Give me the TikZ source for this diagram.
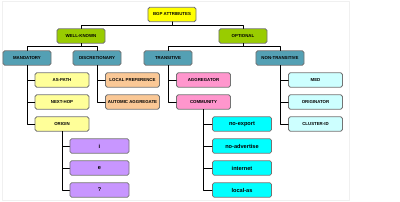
\documentclass[tikz,border=0pt]{standalone}
\usepackage{fontspec}
\setmainfont{Liberation Sans}
\usetikzlibrary{arrows}

\definecolor{bgpyellow}{RGB}{255,255,0}
\definecolor{kindgreen}{RGB}{153,204,0}
\definecolor{classteal}{RGB}{84,160,180}
\definecolor{wellyellow}{RGB}{255,255,153}
\definecolor{discorange}{RGB}{250,200,150}
\definecolor{transpink}{RGB}{255,150,205}
\definecolor{nontcyan}{RGB}{205,255,255}
\definecolor{originlilac}{RGB}{200,150,255}
\definecolor{commcyan}{RGB}{0,255,255}

\begin{document}
\begin{tikzpicture}[line cap=round,line join=round,x=0.025cm,y=-0.025cm,
	box/.style={draw=black!55, line width=0.55pt, rounded corners=1.2pt, inner sep=0pt,
		minimum height=0.36cm, font=\fontsize{3.1}{4}\selectfont\bfseries},
	head/.style={box, minimum width=1.2cm},
	leaf/.style={box, minimum width=1.35cm},
	small/.style={box, minimum width=1.48cm, font=\fontsize{4}{5}\selectfont\bfseries},
	wire/.style={line width=0.6pt, black}]
	\useasboundingbox (0,0) rectangle (400,202);
	\draw[black!6, line width=0.5pt] (2,1) rectangle (349,200);
	% Etage 1
	\node[head, fill=bgpyellow] (bgp) at (172,14.5) {BGP ATTRIBUTES};
	% Etage 2
	\node[head, fill=kindgreen] (wk) at (81,36) {WELL-KNOWN};
	\node[head, fill=kindgreen] (opt) at (243,36) {OPTIONAL};
	\draw[wire] (bgp.south) -- ++(0,3) -| (wk.north);
	\draw[wire] (bgp.south) -- ++(0,3) -| (opt.north);
	% Etage 3
	\node[head, fill=classteal] (mand) at (27,58) {MANDATORY};
	\node[head, fill=classteal] (disc) at (97,58) {DISCRETIONARY};
	\node[head, fill=classteal] (trans) at (168,58) {TRANSITIVE};
	\node[head, fill=classteal] (nontrans) at (280,58) {NON-TRANSITIVE};
	\draw[wire] (wk.south) -- ++(0,3) -| (mand.north);
	\draw[wire] (wk.south) -- ++(0,3) -| (disc.north);
	\draw[wire] (opt.south) -- ++(0,3) -| (trans.north);
	\draw[wire] (opt.south) -- ++(0,3) -| (nontrans.north);
	% Etage 4
	\node[leaf, fill=wellyellow] (aspath) at (62,80) {AS-PATH};
	\node[leaf, fill=wellyellow] (nexthop) at (62,102) {NEXT-HOP};
	\node[leaf, fill=wellyellow] (origin) at (62,124) {ORIGIN};
	\foreach \n in {aspath,nexthop,origin}
		\draw[wire] (mand.south) |- (\n.west);
	\node[leaf, fill=discorange] (localpref) at (132.5,80) {LOCAL PREFERENCE};
	\node[leaf, fill=discorange] (atomagg) at (132.5,102) {AUTOMIC AGGREGATE};
	\foreach \n in {localpref,atomagg}
		\draw[wire] (disc.south) |- (\n.west);
	\node[leaf, fill=transpink] (aggr) at (203.5,80) {AGGREGATOR};
	\node[leaf, fill=transpink] (comm) at (203.5,102) {COMMUNITY};
	\foreach \n in {aggr,comm}
		\draw[wire] (trans.south) |- (\n.west);
	\node[leaf, fill=nontcyan] (med) at (315.5,80) {MED};
	\node[leaf, fill=nontcyan] (originator) at (315.5,102) {ORIGINATOR};
	\node[leaf, fill=nontcyan] (cluster) at (315.5,124) {CLUSTER-ID};
	\foreach \n in {med,originator,cluster}
		\draw[wire] (nontrans.south) |- (\n.west);
	% Etage 5
	\node[small, fill=originlilac] (igp) at (99.5,146) {i};
	\node[small, fill=originlilac] (egp) at (99.5,168) {e};
	\node[small, fill=originlilac] (incomplete) at (99.5,190) {?};
	\foreach \n in {igp,egp,incomplete}
		\draw[wire] (origin.south) |- (\n.west);
	\node[small, fill=commcyan] (noexport) at (242,124) {no-export};
	\node[small, fill=commcyan] (noadvertise) at (242,146) {no-advertise};
	\node[small, fill=commcyan] (internet) at (242,168) {internet};
	\node[small, fill=commcyan] (localas) at (242,190) {local-as};
	\foreach \n in {noexport,noadvertise,internet,localas}
		\draw[wire] (comm.south) |- (\n.west);
\end{tikzpicture}
\end{document}
